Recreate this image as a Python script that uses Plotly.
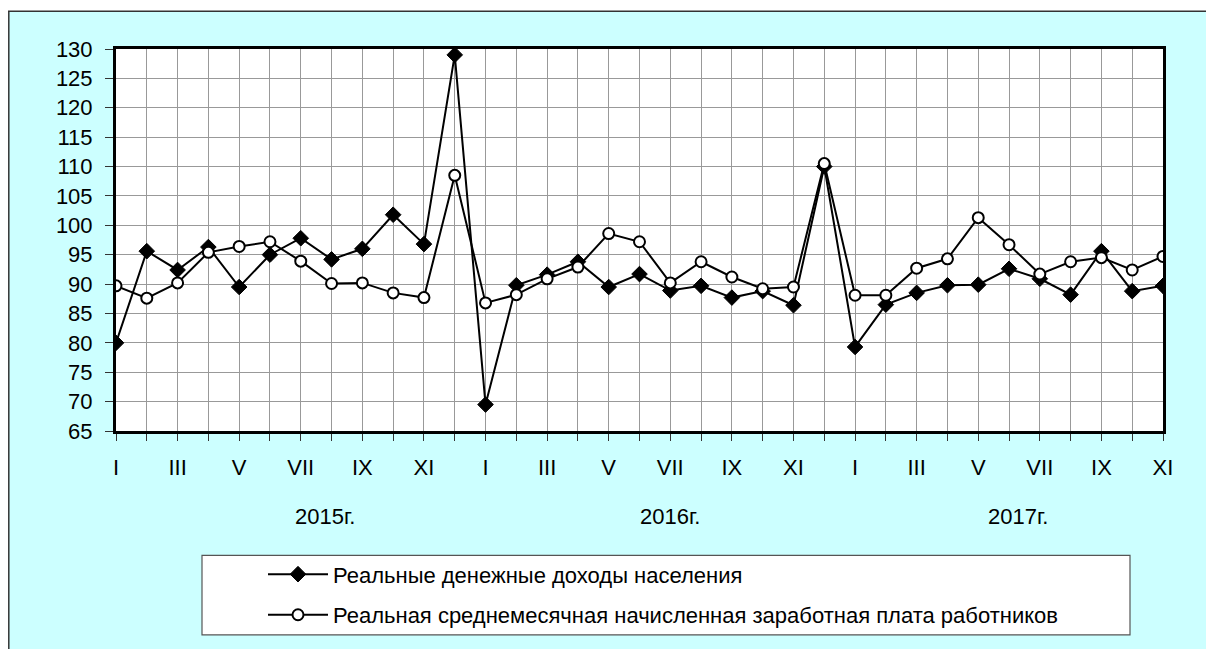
import plotly.graph_objects as go

# ---- data ----
months = list(range(35))  # Jan 2015 .. Nov 2017
month_labels = ["I", "", "III", "", "V", "", "VII", "", "IX", "", "XI", "",
                "I", "", "III", "", "V", "", "VII", "", "IX", "", "XI", "",
                "I", "", "III", "", "V", "", "VII", "", "IX", "", "XI"]
year_labels = ["2015г.", "2016г.", "2017г."]
year_label_pos = [6.8, 18.0, 29.3]

income = [80.0, 95.6, 92.4, 96.3, 89.5, 95.0, 97.8, 94.2, 96.0, 101.8, 96.8, 129.0,
          69.5, 89.8, 91.6, 93.8, 89.5, 91.7, 88.9, 89.7, 87.7, 88.8, 86.4, 110.0,
          79.3, 86.5, 88.5, 89.8, 89.9, 92.6, 90.9, 88.2, 95.6, 88.8, 89.7]
wage = [89.7, 87.6, 90.2, 95.4, 96.4, 97.2, 93.9, 90.1, 90.2, 88.5, 87.7, 108.5,
        86.8, 88.2, 90.9, 92.9, 98.6, 97.2, 90.2, 93.8, 91.2, 89.2, 89.5, 110.5,
        88.1, 88.1, 92.7, 94.3, 101.3, 96.7, 91.7, 93.8, 94.5, 92.4, 94.7]
name_income = "Реальные денежные доходы населения"
name_wage = "Реальная среднемесячная начисленная заработная плата работников"

FONT = "Arial, Liberation Sans, sans-serif"
# page body has an 8px margin, so figure coords = screen coords - 8
OFF = 8
W, H = 1214 - OFF, 649 - OFF
L, R, T, B = 116 - OFF, 1163 - OFF, 49 - OFF, 433 - OFF


def px(X):
    return (X - OFF - L) / (R - L)


def py(Y):
    return (B - (Y - OFF)) / (B - T)


fig = go.Figure()
fig.add_trace(go.Scatter(
    x=months, y=income, name=name_income, mode="lines+markers",
    line=dict(color="black", width=2),
    marker=dict(symbol="diamond", size=12, color="black", line=dict(color="black", width=1)),
    legendgroup="a",
))
fig.add_trace(go.Scatter(
    x=months, y=wage, name=name_wage, mode="lines+markers",
    line=dict(color="black", width=2),
    marker=dict(symbol="circle", size=11, color="white", line=dict(color="black", width=2)),
    legendgroup="b",
))

shapes = [
    # thin white strip above the cyan frame
    dict(type="rect", xref="paper", yref="paper", x0=px(0), x1=px(1240), y0=py(11), y1=py(0),
         fillcolor="white", line=dict(width=0), layer="below"),
    dict(type="line", xref="paper", yref="paper", x0=px(8), x1=px(1240), y0=py(11), y1=py(11),
         line=dict(color="#333333", width=1.5)),
    dict(type="line", xref="paper", yref="paper", x0=px(8.8), x1=px(8.8), y0=py(11), y1=py(680),
         line=dict(color="#333333", width=1.5)),
    # legend box
    dict(type="rect", xref="paper", yref="paper", x0=px(202), x1=px(1130), y0=py(638), y1=py(558),
         fillcolor="white", line=dict(color="#555555", width=1.2), layer="below"),
]

annotations = [
    dict(x=xp, y=py(519), xref="x", yref="paper", text=t, showarrow=False,
         font=dict(family=FONT, size=22, color="black"), xanchor="center", yanchor="middle")
    for t, xp in zip(year_labels, year_label_pos)
]

fig.update_layout(
    width=W, height=H,
    margin=dict(l=L, r=W - R, t=T, b=H - B, pad=0),
    paper_bgcolor="#CCFFFF",
    plot_bgcolor="white",
    font=dict(family=FONT, color="black"),
    shapes=shapes,
    annotations=annotations,
    showlegend=True,
    legend=dict(
        x=px(263), y=py(556), xanchor="left", yanchor="top",
        bgcolor="rgba(0,0,0,0)", borderwidth=0,
        font=dict(family=FONT, size=22, color="black"),
        traceorder="grouped", tracegroupgap=9,
        itemwidth=60,
    ),
    xaxis=dict(
        range=[0, 34], tickmode="array", tickvals=months, ticktext=month_labels,
        showgrid=True, gridcolor="#999999", gridwidth=1,
        showline=True, linecolor="black", linewidth=3, mirror=True,
        ticks="outside", ticklen=7, tickcolor="#333333", tickwidth=1,
        tickfont=dict(family=FONT, size=22, color="black"),
        ticklabelstandoff=8, zeroline=False,
    ),
    yaxis=dict(
        range=[65, 130], dtick=5, tick0=65,
        showgrid=True, gridcolor="#999999", gridwidth=1,
        showline=True, linecolor="black", linewidth=3, mirror=True,
        ticks="outside", ticklen=8, tickcolor="#333333", tickwidth=1,
        tickfont=dict(family=FONT, size=22, color="black"),
        ticklabelstandoff=8, zeroline=False,
    ),
)

fig.write_html(
    "out.html",
    post_script="document.documentElement.style.overflow='hidden';document.body.style.overflow='hidden';",
)
